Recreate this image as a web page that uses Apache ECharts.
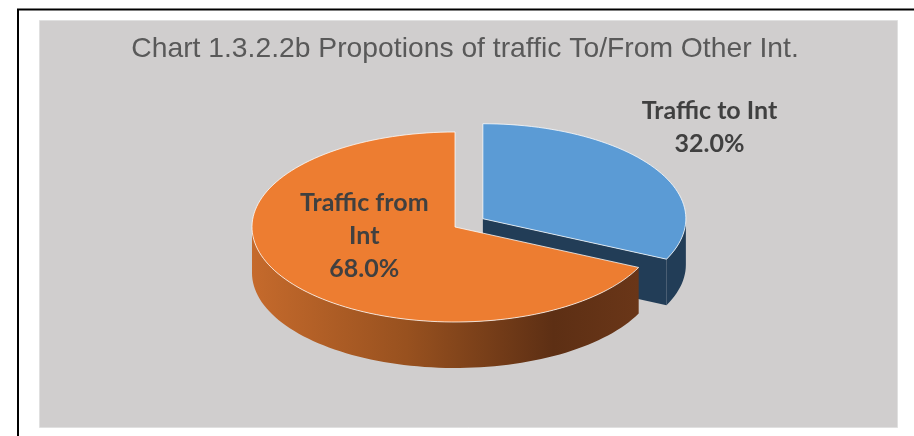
<!DOCTYPE html>
<html>
<head>
<meta charset="utf-8">
<script src="https://cdn.jsdelivr.net/npm/echarts@6/dist/echarts.min.js"></script>
<style>
  html, body { margin: 0; padding: 0; background: #fff; }
  #chart { width: 914px; height: 436px; }
</style>
</head>
<body>
<div id="chart"></div>
<script>
// data
const categories = ['Traffic to Int', 'Traffic from Int'];
const labelNames = ['Traffic to Int', 'Traffic from\nInt'];
const shares = [32.0, 68.0];

// look of the tilted pie (px)
const CX = 455, CY = 227, RX = 203, RY = 95, DEPTH = 46;
const explode = [33, 0];
const topColors = ['#5b9bd5', '#ed7d31'];
const labelAt = [[1.2, 21, -30], [0.5, -5, -17]]; // radius factor, dx, dy

const orangeWall = {
  type: 'linear', x: 0, y: 0, x2: 1, y2: 0,
  colorStops: [
    { offset: 0, color: '#c56a2c' },
    { offset: 0.4, color: '#98511f' },
    { offset: 0.78, color: '#5d2f14' },
    { offset: 1, color: '#6a3618' }
  ]
};
const wallColors = ['#223d57', orangeWall];

function renderItem(params, api) {
  const i = params.dataIndex;
  const total = shares.reduce((a, b) => a + b, 0);
  const before = shares.slice(0, i).reduce((a, b) => a + b, 0);
  const a0 = 90 - 360 * before / total;
  const a1 = a0 - 360 * api.value(0) / total;
  const rad = d => d * Math.PI / 180;
  const mid = rad((a0 + a1) / 2);
  const cx = CX + explode[i] * Math.cos(mid);
  const cy = CY - explode[i] * Math.sin(mid) * RY / RX;
  const pt = (deg, dz) => [cx + RX * Math.cos(rad(deg)), cy - RY * Math.sin(rad(deg)) + (dz || 0)];
  const arc = (from, to, dz) => {
    const n = Math.max(2, Math.ceil(Math.abs(to - from) / 2));
    const pts = [];
    for (let k = 0; k <= n; k++) pts.push(pt(from + (to - from) * k / n, dz));
    return pts;
  };
  const children = [];

  // outer wall, only the front half is seen
  for (let k = -1; k <= 1; k++) {
    const lo = Math.max(a1, -180 + 360 * k);
    const hi = Math.min(a0, 360 * k);
    if (hi > lo) {
      const pts = arc(lo, hi, 0).concat(arc(hi, lo, DEPTH));
      children.push({ type: 'polygon', shape: { points: pts }, style: { fill: wallColors[i] } });
    }
  }
  // cut faces
  const face = deg => [[cx, cy], pt(deg, 0), pt(deg, DEPTH), [cx, cy + DEPTH]];
  if (Math.sin(rad(a1 - 90)) < -0.01) {
    children.push({ type: 'polygon', shape: { points: face(a1) }, style: { fill: wallColors[i] } });
  }
  if (Math.sin(rad(a0 + 90)) < -0.01) {
    children.push({ type: 'polygon', shape: { points: face(a0) }, style: { fill: wallColors[i] } });
  }
  // top face
  children.push({
    type: 'polygon',
    shape: { points: [[cx, cy]].concat(arc(a0, a1, 0)) },
    style: { fill: topColors[i], stroke: 'rgba(255,255,255,0.75)', lineWidth: 1 }
  });
  // label
  const la = labelAt[i];
  children.push({
    type: 'text',
    x: cx + la[0] * RX * Math.cos(mid) + la[1],
    y: cy - la[0] * RY * Math.sin(mid) + la[2],
    style: {
      text: labelNames[i] + '\n' + api.value(0).toFixed(1) + '%',
      fontFamily: 'Lato', fontWeight: 'bold', fontSize: 25,
      lineHeight: 33, fill: '#404040', align: 'center', verticalAlign: 'middle'
    }
  });
  return { type: 'group', children: children };
}

const chart = echarts.init(document.getElementById('chart'));
chart.setOption({
  animation: false,
  backgroundColor: '#fff',
  graphic: [
    { type: 'polyline', z: -10, shape: { points: [[18, 436], [18, 9.5], [914, 9.5]] }, style: { stroke: '#000', lineWidth: 2, fill: null } },
    { type: 'rect', z: -10, shape: { x: 39.5, y: 20.5, width: 858, height: 407 }, style: { fill: '#d0cece', stroke: '#e0e0e0', lineWidth: 1 } },
    {
      type: 'text', z: -5, x: 465, y: 49, scaleX: 1.01,
      style: {
        text: 'Chart 1.3.2.2b Propotions of traffic To/From Other Int.',
        fontFamily: 'Liberation Sans', fontSize: 28, fill: '#595959',
        align: 'center', verticalAlign: 'middle'
      }
    }
  ],
  series: [{
    type: 'custom',
    name: 'Traffic',
    coordinateSystem: 'none',
    silent: true,
    z: 10,
    data: shares.map((v, i) => ({ name: categories[i], value: [v] })),
    renderItem: renderItem
  }]
});
</script>
</body>
</html>
